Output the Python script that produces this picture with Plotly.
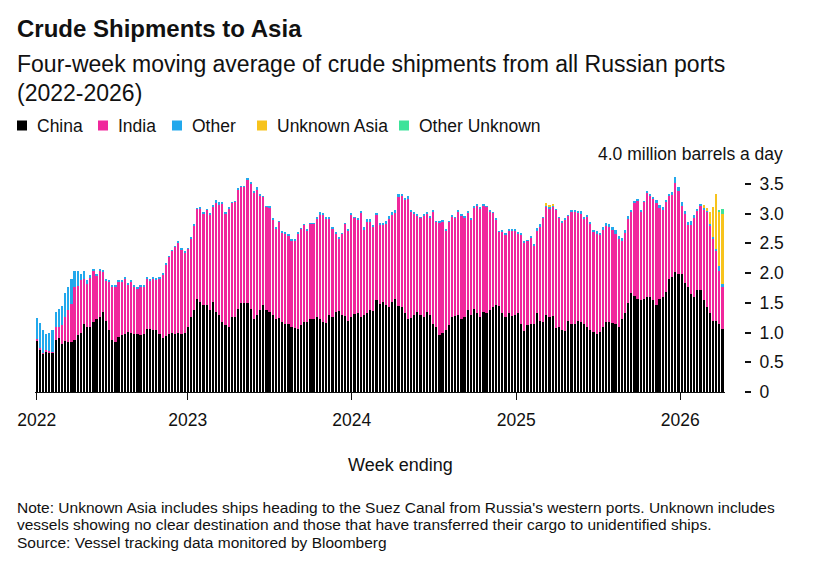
import pandas as pd
import plotly.graph_objects as go

# weekly values, million barrels a day (4-week moving average)
china = [
    0.87, 0.72, 0.64, 0.68, 0.67, 0.66, 0.88, 0.90, 0.81, 0.86,
    0.84, 0.84, 0.87, 0.95, 0.99, 1.15, 1.09, 1.09, 1.18, 1.22,
    1.26, 1.34, 1.20, 1.05, 0.87, 0.84, 0.92, 0.95, 0.98, 1.01,
    0.99, 0.98, 0.97, 0.96, 0.98, 1.06, 1.06, 1.05, 1.04, 0.98,
    0.90, 0.94, 0.97, 1.00, 0.98, 0.99, 0.98, 1.00, 1.09, 1.26,
    1.37, 1.57, 1.51, 1.46, 1.46, 1.37, 1.51, 1.34, 1.29, 1.18,
    1.12, 1.09, 1.26, 1.26, 1.40, 1.49, 1.49, 1.49, 1.40, 1.23,
    1.30, 1.37, 1.46, 1.37, 1.34, 1.30, 1.23, 1.25, 1.18, 1.15,
    1.14, 1.10, 1.08, 1.06, 1.13, 1.18, 1.18, 1.22, 1.23, 1.26,
    1.23, 1.18, 1.16, 1.30, 1.26, 1.34, 1.36, 1.29, 1.27, 1.19,
    1.26, 1.31, 1.32, 1.26, 1.29, 1.33, 1.37, 1.36, 1.55, 1.48,
    1.52, 1.46, 1.43, 1.51, 1.57, 1.44, 1.43, 1.32, 1.23, 1.24,
    1.29, 1.34, 1.29, 1.26, 1.34, 1.29, 1.15, 1.09, 0.95, 1.00,
    1.05, 1.12, 1.26, 1.27, 1.30, 1.23, 1.26, 1.38, 1.29, 1.40,
    1.32, 1.26, 1.35, 1.32, 1.38, 1.43, 1.46, 1.44, 1.32, 1.26,
    1.32, 1.28, 1.30, 1.32, 1.15, 1.02, 1.12, 1.15, 1.14, 1.33,
    1.19, 1.18, 1.30, 1.26, 1.27, 1.08, 1.09, 1.05, 1.03, 1.19,
    1.15, 1.15, 1.20, 1.17, 1.15, 1.09, 1.04, 1.01, 0.98, 1.01,
    1.09, 1.18, 1.18, 1.16, 1.14, 1.09, 1.23, 1.32, 1.50, 1.66,
    1.62, 1.57, 1.54, 1.57, 1.60, 1.59, 1.54, 1.46, 1.57, 1.60,
    1.68, 1.90, 1.93, 2.02, 1.99, 1.99, 1.83, 1.76, 1.65, 1.60,
    1.72, 1.72, 1.54, 1.43, 1.32, 1.20, 1.20, 1.15, 1.06,
]
india = [
    0.02, 0.02, 0.02, 0.02, 0.02, 0.02, 0.22, 0.19, 0.31, 0.40,
    0.53, 0.64, 0.89, 0.84, 0.89, 0.75, 0.73, 0.82, 0.86, 0.74,
    0.78, 0.68, 0.67, 0.81, 0.90, 0.93, 0.94, 0.91, 0.92, 0.79,
    0.87, 0.79, 0.77, 0.81, 0.79, 0.85, 0.82, 0.86, 0.85, 0.93,
    1.08, 1.21, 1.30, 1.37, 1.46, 1.53, 1.42, 1.35, 1.32, 1.32,
    1.43, 1.51, 1.58, 1.54, 1.60, 1.62, 1.60, 1.84, 1.86, 1.98,
    1.88, 2.00, 1.92, 1.94, 2.01, 1.96, 1.96, 2.07, 2.11, 2.12,
    2.09, 1.94, 1.82, 1.74, 1.76, 1.60, 1.52, 1.61, 1.50, 1.52,
    1.49, 1.45, 1.47, 1.61, 1.61, 1.63, 1.54, 1.61, 1.60, 1.66,
    1.75, 1.81, 1.76, 1.62, 1.49, 1.33, 1.22, 1.37, 1.56, 1.53,
    1.72, 1.62, 1.58, 1.75, 1.44, 1.52, 1.49, 1.42, 1.44, 1.33,
    1.30, 1.38, 1.48, 1.47, 1.44, 1.85, 1.87, 1.92, 2.03, 1.79,
    1.71, 1.63, 1.64, 1.71, 1.66, 1.65, 1.88, 1.77, 1.90, 1.87,
    1.67, 1.74, 1.69, 1.66, 1.74, 1.74, 1.68, 1.63, 1.61, 1.70,
    1.82, 1.83, 1.79, 1.79, 1.66, 1.58, 1.44, 1.25, 1.38, 1.39,
    1.40, 1.44, 1.42, 1.35, 1.50, 1.50, 1.42, 1.45, 1.33, 1.38,
    1.59, 1.75, 1.81, 1.82, 1.84, 1.98, 1.84, 1.80, 1.87, 1.77,
    1.87, 1.87, 1.81, 1.83, 1.76, 1.85, 1.79, 1.68, 1.68, 1.63,
    1.64, 1.61, 1.59, 1.57, 1.52, 1.48, 1.31, 1.35, 1.42, 1.38,
    1.57, 1.65, 1.50, 1.63, 1.74, 1.71, 1.70, 1.72, 1.52, 1.46,
    1.51, 1.39, 1.38, 1.49, 1.38, 1.14, 1.17, 1.04, 1.16, 1.32,
    1.32, 1.40, 1.53, 1.60, 1.48, 1.38, 1.18, 0.89, 0.70,
]
other = [
    0.35, 0.42, 0.38, 0.28, 0.31, 0.36, 0.25, 0.31, 0.32, 0.40,
    0.39, 0.42, 0.28, 0.25, 0.10, 0.14, 0.06, 0.05, 0.03, 0.03,
    0.03, 0.03, 0.02, 0.02, 0.02, 0.02, 0.02, 0.02, 0.02, 0.02,
    0.02, 0.02, 0.02, 0.02, 0.02, 0.02, 0.02, 0.01, 0.01, 0.01,
    0.01, 0.01, 0.01, 0.01, 0.01, 0.01, 0.01, 0.01, 0.01, 0.01,
    0.01, 0.01, 0.01, 0.01, 0.01, 0.01, 0.03, 0.04, 0.04, 0.03,
    0.01, 0.01, 0.01, 0.01, 0.01, 0.01, 0.01, 0.04, 0.02, 0.03,
    0.05, 0.01, 0.01, 0.01, 0.01, 0.01, 0.01, 0.01, 0.01, 0.01,
    0.01, 0.01, 0.01, 0.01, 0.01, 0.01, 0.01, 0.01, 0.01, 0.01,
    0.04, 0.01, 0.01, 0.01, 0.01, 0.01, 0.01, 0.01, 0.01, 0.01,
    0.03, 0.01, 0.01, 0.03, 0.04, 0.05, 0.05, 0.03, 0.02, 0.03,
    0.01, 0.03, 0.04, 0.05, 0.05, 0.03, 0.03, 0.01, 0.03, 0.02,
    0.01, 0.01, 0.01, 0.01, 0.01, 0.01, 0.02, 0.01, 0.01, 0.01,
    0.01, 0.01, 0.01, 0.01, 0.01, 0.01, 0.01, 0.04, 0.01, 0.01,
    0.01, 0.01, 0.01, 0.01, 0.01, 0.01, 0.01, 0.01, 0.01, 0.01,
    0.01, 0.01, 0.01, 0.01, 0.01, 0.01, 0.01, 0.01, 0.01, 0.05,
    0.04, 0.01, 0.03, 0.03, 0.02, 0.01, 0.01, 0.01, 0.01, 0.01,
    0.04, 0.04, 0.04, 0.04, 0.03, 0.04, 0.03, 0.04, 0.04, 0.04,
    0.04, 0.05, 0.05, 0.04, 0.06, 0.06, 0.05, 0.05, 0.03, 0.01,
    0.01, 0.03, 0.01, 0.01, 0.04, 0.03, 0.04, 0.04, 0.05, 0.05,
    0.04, 0.04, 0.05, 0.10, 0.08, 0.06, 0.05, 0.06, 0.06, 0.05,
    0.04, 0.04, 0.02, 0.02, 0.02, 0.03, 0.03, 0.08, 0.06,
]
unknown_asia = [0.0] * 162 + [0.03, 0.03, 0.03] + [0.0] * 47 + [0.05, 0.05, 0.21, 0.50, 0.92, 0.91, 1.18]
other_unknown = [0.0] * 217 + [0.02, 0.08]

weeks = pd.date_range("2022-01-30", periods=len(china), freq="7D")

year_ticks = ["2022-01-30", "2023-01-01", "2024-01-01", "2025-01-01", "2026-01-01"]
year_labels = ["2022", "2023", "2024", "2025", "2026"]
y_ticks = [0, 0.5, 1.0, 1.5, 2.0, 2.5, 3.0, 3.5]
y_labels = ["0", "0.5", "1.0", "1.5", "2.0", "2.5", "3.0", "3.5"]

series = [
    ("China", china, "#000000"),
    ("India", india, "#F0289C"),
    ("Other", other, "#22A8EC"),
    ("Unknown Asia", unknown_asia, "#F7C31C"),
    ("Other Unknown", other_unknown, "#3DE39A"),
]
# left edge of each legend swatch (px)
legend_x = [17, 98, 172, 257, 399]

FONT = "Liberation Sans, Arial, sans-serif"
INK = "#111111"

# page geometry (px)
W, H = 816, 567
L, R, T, B = 35, 790, 154, 392
PLOT_R = 725


def px(x):
    return (x - L) / (R - L)


def py(y):
    return (B - y) / (B - T)


def label(fig, text, x, y, size, anchor="left"):
    fig.add_annotation(text=text, x=px(x), y=py(y), xref="paper", yref="paper",
                       xanchor=anchor, yanchor="middle", align="left", showarrow=False,
                       font=dict(size=size, color=INK, family=FONT))


fig = go.Figure()
for name, vals, col in series:
    fig.add_trace(go.Bar(x=weeks, y=vals, name=name, marker_color=col,
                         marker_line_width=0, showlegend=False))

fig.update_layout(
    width=W, height=H,
    margin=dict(l=L, r=W - R, t=T, b=H - B, pad=0, autoexpand=False),
    barmode="stack", bargap=0.3,
    plot_bgcolor="white", paper_bgcolor="white",
    font=dict(family=FONT, size=17, color=INK),
)

fig.update_xaxes(
    domain=[0, px(PLOT_R)],
    type="date",
    range=["2022-01-26", "2026-04-10 14:00"],
    tickvals=year_ticks, ticktext=year_labels,
    ticks="outside", ticklen=7, tickwidth=1, tickcolor=INK,
    showline=True, linecolor=INK, linewidth=1,
    showgrid=False, zeroline=False, automargin=False,
    tickfont=dict(size=17.5, color=INK),
    ticklabelstandoff=5,
)
fig.update_yaxes(
    range=[0, 4.0],
    anchor="free", position=px(744), side="right",
    tickvals=y_ticks, ticktext=y_labels,
    ticks="outside", ticklen=6, tickwidth=1.5, tickcolor=INK,
    showline=False, showgrid=False, zeroline=False, automargin=False,
    tickfont=dict(size=17.5, color=INK),
    ticklabelstandoff=5,
)

# legend drawn as swatches + labels so it sits where the original has it
for (name, _, col), lx in zip(series, legend_x):
    fig.add_shape(type="rect", xref="paper", yref="paper",
                  x0=px(lx), x1=px(lx + 10), y0=py(130.5), y1=py(120.5),
                  fillcolor=col, line_width=0)
    label(fig, name, lx + 18, 125.5, 17.5)

label(fig, "<b>Crude Shipments to Asia</b>", 15, 28.5, 24)
label(fig, "Four-week moving average of crude shipments from all Russian ports", 15, 63.5, 23)
label(fig, "(2022-2026)", 15, 92.5, 23)
label(fig, "Note: Unknown Asia includes ships heading to the Suez Canal from Russia's western ports. Unknown includes",
      15, 507, 15.5)
label(fig, "vessels showing no clear destination and those that have transferred their cargo to unidentified ships.",
      15, 524.5, 15.5)
label(fig, "Source: Vessel tracking data monitored by Bloomberg", 15, 542, 15.5)
label(fig, "Week ending", 400, 465, 18, anchor="center")

fig.add_annotation(text="4.0 million barrels a day", x=px(785), y=4.0, xref="paper", yref="y",
                   xanchor="right", yanchor="middle", showarrow=False,
                   font=dict(size=17.5, color=INK, family=FONT))

# browsers add an 8px margin round the body; drop it so the page lines up
fig.write_html("out.html", config={"displayModeBar": False},
               post_script="document.body.style.margin = '0px';")
